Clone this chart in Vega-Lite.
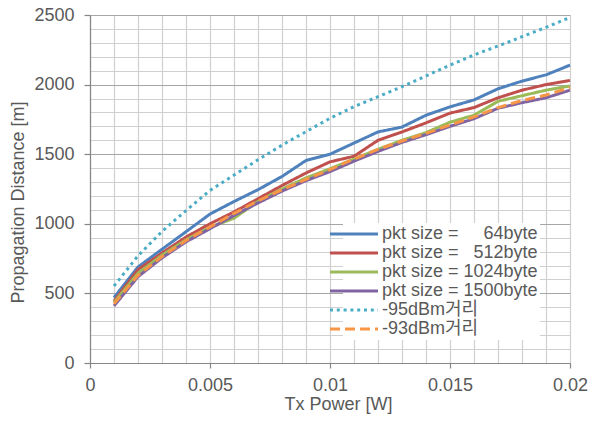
{
  "$schema": "https://vega.github.io/schema/vega-lite/v6.json",
  "width": 480,
  "height": 348,
  "autosize": {"type": "none"},
  "padding": {"left": 90, "top": 15, "right": 32, "bottom": 58},
  "background": "white",
  "config": {
    "view": {"stroke": null},
    "font": "Liberation Sans",
    "axis": {
      "labelFont": "Liberation Sans",
      "labelFontSize": 18,
      "labelColor": "#595959",
      "titleFont": "Liberation Sans",
      "titleFontSize": 18,
      "titleFontWeight": "normal",
      "titleColor": "#595959",
      "domainColor": "#868686",
      "domainWidth": 1.2,
      "gridWidth": 1.2,
      "tickWidth": 1.2
    },
    "legend": {
      "labelFont": "Liberation Sans, Noto Sans CJK KR",
      "labelFontSize": 18,
      "labelColor": "#595959",
      "labelLimit": 400
    }
  },
  "data": {
    "values": [
      {"power": 0.001, "series": "pkt size =\u00a0\u00a0\u00a0\u00a0\u00a064byte", "d": 470},
      {"power": 0.002, "series": "pkt size =\u00a0\u00a0\u00a0\u00a0\u00a064byte", "d": 690},
      {"power": 0.003, "series": "pkt size =\u00a0\u00a0\u00a0\u00a0\u00a064byte", "d": 817},
      {"power": 0.004, "series": "pkt size =\u00a0\u00a0\u00a0\u00a0\u00a064byte", "d": 943},
      {"power": 0.005, "series": "pkt size =\u00a0\u00a0\u00a0\u00a0\u00a064byte", "d": 1070},
      {"power": 0.006, "series": "pkt size =\u00a0\u00a0\u00a0\u00a0\u00a064byte", "d": 1160},
      {"power": 0.007, "series": "pkt size =\u00a0\u00a0\u00a0\u00a0\u00a064byte", "d": 1245},
      {"power": 0.008, "series": "pkt size =\u00a0\u00a0\u00a0\u00a0\u00a064byte", "d": 1340},
      {"power": 0.009, "series": "pkt size =\u00a0\u00a0\u00a0\u00a0\u00a064byte", "d": 1455},
      {"power": 0.010, "series": "pkt size =\u00a0\u00a0\u00a0\u00a0\u00a064byte", "d": 1500},
      {"power": 0.011, "series": "pkt size =\u00a0\u00a0\u00a0\u00a0\u00a064byte", "d": 1580},
      {"power": 0.012, "series": "pkt size =\u00a0\u00a0\u00a0\u00a0\u00a064byte", "d": 1660},
      {"power": 0.013, "series": "pkt size =\u00a0\u00a0\u00a0\u00a0\u00a064byte", "d": 1695},
      {"power": 0.014, "series": "pkt size =\u00a0\u00a0\u00a0\u00a0\u00a064byte", "d": 1780},
      {"power": 0.015, "series": "pkt size =\u00a0\u00a0\u00a0\u00a0\u00a064byte", "d": 1840},
      {"power": 0.016, "series": "pkt size =\u00a0\u00a0\u00a0\u00a0\u00a064byte", "d": 1890},
      {"power": 0.017, "series": "pkt size =\u00a0\u00a0\u00a0\u00a0\u00a064byte", "d": 1970},
      {"power": 0.018, "series": "pkt size =\u00a0\u00a0\u00a0\u00a0\u00a064byte", "d": 2025},
      {"power": 0.019, "series": "pkt size =\u00a0\u00a0\u00a0\u00a0\u00a064byte", "d": 2070},
      {"power": 0.020, "series": "pkt size =\u00a0\u00a0\u00a0\u00a0\u00a064byte", "d": 2140},

      {"power": 0.001, "series": "pkt size =\u00a0\u00a0\u00a0512byte", "d": 445},
      {"power": 0.002, "series": "pkt size =\u00a0\u00a0\u00a0512byte", "d": 670},
      {"power": 0.003, "series": "pkt size =\u00a0\u00a0\u00a0512byte", "d": 790},
      {"power": 0.004, "series": "pkt size =\u00a0\u00a0\u00a0512byte", "d": 905},
      {"power": 0.005, "series": "pkt size =\u00a0\u00a0\u00a0512byte", "d": 1000},
      {"power": 0.006, "series": "pkt size =\u00a0\u00a0\u00a0512byte", "d": 1085},
      {"power": 0.007, "series": "pkt size =\u00a0\u00a0\u00a0512byte", "d": 1180},
      {"power": 0.008, "series": "pkt size =\u00a0\u00a0\u00a0512byte", "d": 1275},
      {"power": 0.009, "series": "pkt size =\u00a0\u00a0\u00a0512byte", "d": 1365},
      {"power": 0.010, "series": "pkt size =\u00a0\u00a0\u00a0512byte", "d": 1445},
      {"power": 0.011, "series": "pkt size =\u00a0\u00a0\u00a0512byte", "d": 1485},
      {"power": 0.012, "series": "pkt size =\u00a0\u00a0\u00a0512byte", "d": 1600},
      {"power": 0.013, "series": "pkt size =\u00a0\u00a0\u00a0512byte", "d": 1660},
      {"power": 0.014, "series": "pkt size =\u00a0\u00a0\u00a0512byte", "d": 1725},
      {"power": 0.015, "series": "pkt size =\u00a0\u00a0\u00a0512byte", "d": 1795},
      {"power": 0.016, "series": "pkt size =\u00a0\u00a0\u00a0512byte", "d": 1835},
      {"power": 0.017, "series": "pkt size =\u00a0\u00a0\u00a0512byte", "d": 1905},
      {"power": 0.018, "series": "pkt size =\u00a0\u00a0\u00a0512byte", "d": 1960},
      {"power": 0.019, "series": "pkt size =\u00a0\u00a0\u00a0512byte", "d": 2000},
      {"power": 0.020, "series": "pkt size =\u00a0\u00a0\u00a0512byte", "d": 2030},

      {"power": 0.001, "series": "pkt size = 1024byte", "d": 435},
      {"power": 0.002, "series": "pkt size = 1024byte", "d": 645},
      {"power": 0.003, "series": "pkt size = 1024byte", "d": 775},
      {"power": 0.004, "series": "pkt size = 1024byte", "d": 885},
      {"power": 0.005, "series": "pkt size = 1024byte", "d": 975},
      {"power": 0.006, "series": "pkt size = 1024byte", "d": 1040},
      {"power": 0.007, "series": "pkt size = 1024byte", "d": 1160},
      {"power": 0.008, "series": "pkt size = 1024byte", "d": 1250},
      {"power": 0.009, "series": "pkt size = 1024byte", "d": 1330},
      {"power": 0.010, "series": "pkt size = 1024byte", "d": 1395},
      {"power": 0.011, "series": "pkt size = 1024byte", "d": 1465},
      {"power": 0.012, "series": "pkt size = 1024byte", "d": 1535},
      {"power": 0.013, "series": "pkt size = 1024byte", "d": 1600},
      {"power": 0.014, "series": "pkt size = 1024byte", "d": 1655},
      {"power": 0.015, "series": "pkt size = 1024byte", "d": 1730},
      {"power": 0.016, "series": "pkt size = 1024byte", "d": 1780},
      {"power": 0.017, "series": "pkt size = 1024byte", "d": 1880},
      {"power": 0.018, "series": "pkt size = 1024byte", "d": 1920},
      {"power": 0.019, "series": "pkt size = 1024byte", "d": 1960},
      {"power": 0.020, "series": "pkt size = 1024byte", "d": 1990},

      {"power": 0.001, "series": "pkt size = 1500byte", "d": 410},
      {"power": 0.002, "series": "pkt size = 1500byte", "d": 620},
      {"power": 0.003, "series": "pkt size = 1500byte", "d": 755},
      {"power": 0.004, "series": "pkt size = 1500byte", "d": 870},
      {"power": 0.005, "series": "pkt size = 1500byte", "d": 965},
      {"power": 0.006, "series": "pkt size = 1500byte", "d": 1060},
      {"power": 0.007, "series": "pkt size = 1500byte", "d": 1150},
      {"power": 0.008, "series": "pkt size = 1500byte", "d": 1235},
      {"power": 0.009, "series": "pkt size = 1500byte", "d": 1310},
      {"power": 0.010, "series": "pkt size = 1500byte", "d": 1375},
      {"power": 0.011, "series": "pkt size = 1500byte", "d": 1450},
      {"power": 0.012, "series": "pkt size = 1500byte", "d": 1520},
      {"power": 0.013, "series": "pkt size = 1500byte", "d": 1585},
      {"power": 0.014, "series": "pkt size = 1500byte", "d": 1640},
      {"power": 0.015, "series": "pkt size = 1500byte", "d": 1700},
      {"power": 0.016, "series": "pkt size = 1500byte", "d": 1755},
      {"power": 0.017, "series": "pkt size = 1500byte", "d": 1830},
      {"power": 0.018, "series": "pkt size = 1500byte", "d": 1870},
      {"power": 0.019, "series": "pkt size = 1500byte", "d": 1905},
      {"power": 0.020, "series": "pkt size = 1500byte", "d": 1960},

      {"power": 0.001, "series": "-95dBm거리", "d": 553},
      {"power": 0.002, "series": "-95dBm거리", "d": 770},
      {"power": 0.003, "series": "-95dBm거리", "d": 945},
      {"power": 0.004, "series": "-95dBm거리", "d": 1095},
      {"power": 0.005, "series": "-95dBm거리", "d": 1240},
      {"power": 0.006, "series": "-95dBm거리", "d": 1350},
      {"power": 0.007, "series": "-95dBm거리", "d": 1460},
      {"power": 0.008, "series": "-95dBm거리", "d": 1565},
      {"power": 0.009, "series": "-95dBm거리", "d": 1662},
      {"power": 0.010, "series": "-95dBm거리", "d": 1758},
      {"power": 0.011, "series": "-95dBm거리", "d": 1842},
      {"power": 0.012, "series": "-95dBm거리", "d": 1913},
      {"power": 0.013, "series": "-95dBm거리", "d": 1985},
      {"power": 0.014, "series": "-95dBm거리", "d": 2062},
      {"power": 0.015, "series": "-95dBm거리", "d": 2140},
      {"power": 0.016, "series": "-95dBm거리", "d": 2213},
      {"power": 0.017, "series": "-95dBm거리", "d": 2277},
      {"power": 0.018, "series": "-95dBm거리", "d": 2344},
      {"power": 0.019, "series": "-95dBm거리", "d": 2411},
      {"power": 0.020, "series": "-95dBm거리", "d": 2483},

      {"power": 0.001, "series": "-93dBm거리", "d": 425},
      {"power": 0.002, "series": "-93dBm거리", "d": 630},
      {"power": 0.003, "series": "-93dBm거리", "d": 765},
      {"power": 0.004, "series": "-93dBm거리", "d": 880},
      {"power": 0.005, "series": "-93dBm거리", "d": 978},
      {"power": 0.006, "series": "-93dBm거리", "d": 1075},
      {"power": 0.007, "series": "-93dBm거리", "d": 1165},
      {"power": 0.008, "series": "-93dBm거리", "d": 1245},
      {"power": 0.009, "series": "-93dBm거리", "d": 1320},
      {"power": 0.010, "series": "-93dBm거리", "d": 1390},
      {"power": 0.011, "series": "-93dBm거리", "d": 1465},
      {"power": 0.012, "series": "-93dBm거리", "d": 1535},
      {"power": 0.013, "series": "-93dBm거리", "d": 1595},
      {"power": 0.014, "series": "-93dBm거리", "d": 1650},
      {"power": 0.015, "series": "-93dBm거리", "d": 1710},
      {"power": 0.016, "series": "-93dBm거리", "d": 1768},
      {"power": 0.017, "series": "-93dBm거리", "d": 1835},
      {"power": 0.018, "series": "-93dBm거리", "d": 1885},
      {"power": 0.019, "series": "-93dBm거리", "d": 1925},
      {"power": 0.020, "series": "-93dBm거리", "d": 1978}
    ]
  },
  "mark": {"type": "line", "strokeWidth": 3, "strokeCap": "butt", "strokeJoin": "round"},
  "encoding": {
    "x": {
      "field": "power",
      "type": "quantitative",
      "scale": {"domain": [0, 0.02], "nice": false, "zero": true},
      "axis": {
        "title": "Tx Power [W]",
        "values": [0, 0.001, 0.002, 0.003, 0.004, 0.005, 0.006, 0.007, 0.008, 0.009, 0.01, 0.011, 0.012, 0.013, 0.014, 0.015, 0.016, 0.017, 0.018, 0.019, 0.02],
        "labelExpr": "abs(datum.value * 200 - round(datum.value * 200)) < 1e-6 ? format(datum.value, '~g') : ''",
        "grid": true,
        "gridColor": "#d0d0d0",
        "tickSize": 5,
        "tickColor": {"condition": {"test": "abs(datum.value * 200 - round(datum.value * 200)) < 1e-6", "value": "#868686"}, "value": "transparent"},
        "labelPadding": 8,
        "labelFlush": false,
        "labelOverlap": false,
        "titlePadding": 1,
        "titleX": 248
      }
    },
    "y": {
      "field": "d",
      "type": "quantitative",
      "scale": {"domain": [0, 2500], "nice": false},
      "axis": {
        "title": "Propagation Distance [m]",
        "values": [0, 100, 200, 300, 400, 500, 600, 700, 800, 900, 1000, 1100, 1200, 1300, 1400, 1500, 1600, 1700, 1800, 1900, 2000, 2100, 2200, 2300, 2400, 2500],
        "labelExpr": "datum.value % 500 === 0 ? format(datum.value, 'd') : ''",
        "grid": true,
        "gridColor": {"condition": {"test": "datum.value % 500 === 0", "value": "#a6a6a6"}, "value": "#d0d0d0"},
        "tickSize": 6,
        "tickColor": {"condition": {"test": "datum.value % 500 === 0", "value": "#868686"}, "value": "transparent"},
        "labelPadding": 10,
        "labelFlush": false,
        "labelOverlap": false,
        "titlePadding": 6,
        "titleY": 187
      }
    },
    "color": {
      "field": "series",
      "type": "nominal",
      "title": null,
      "scale": {
        "domain": ["pkt size =\u00a0\u00a0\u00a0\u00a0\u00a064byte", "pkt size =\u00a0\u00a0\u00a0512byte", "pkt size = 1024byte", "pkt size = 1500byte", "-95dBm거리", "-93dBm거리"],
        "range": ["#4f81bd", "#c0504d", "#9bbb59", "#8064a2", "#4bacc6", "#f79646"]
      },
      "legend": {
        "orient": "none",
        "legendX": 253,
        "legendY": 208,
        "fillColor": "white",
        "padding": 2,
        "symbolType": "M-4,0H4",
        "symbolSize": 144,
        "symbolStrokeWidth": 3,
        "rowPadding": 1,
        "labelOffset": 19
      }
    },
    "strokeDash": {
      "field": "series",
      "type": "nominal",
      "title": null,
      "scale": {
        "domain": ["pkt size =\u00a0\u00a0\u00a0\u00a0\u00a064byte", "pkt size =\u00a0\u00a0\u00a0512byte", "pkt size = 1024byte", "pkt size = 1500byte", "-95dBm거리", "-93dBm거리"],
        "range": [[1, 0], [1, 0], [1, 0], [1, 0], [3, 3.8], [10, 5]]
      }
    }
  }
}
